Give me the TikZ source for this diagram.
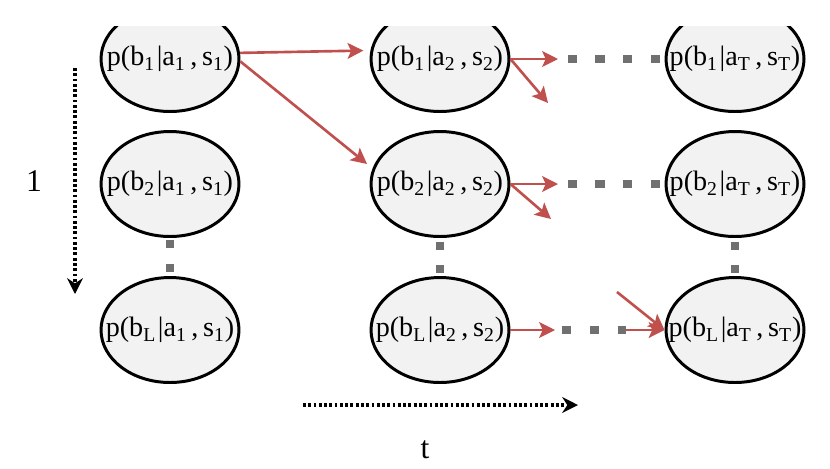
\documentclass[tikz,border=0pt]{standalone}
\usepackage{fontspec}
\setmainfont{Liberation Serif}
\usetikzlibrary{arrows.meta,shapes.geometric}
\definecolor{arrowred}{RGB}{192,80,77}
\definecolor{dotgray}{RGB}{112,112,112}
\definecolor{beliefgray}{RGB}{242,242,242}
\tikzset{
belief/.style={draw,ellipse,fill=beliefgray,line width=1.7pt,minimum width=2.76cm,minimum height=2.1cm,inner sep=0pt,font=\fontsize{16}{19}\selectfont},
arrow/.style={-{Stealth[length=9pt,width=9pt,inset=2pt]},arrowred,line width=1.5pt},
gapdots/.style={dotgray,line width=5pt,dash pattern=on 5.2pt off 10.6pt},
vgapdots/.style={dotgray,line width=4.6pt,dash pattern=on 4.6pt off 9pt},
axisarrow/.style={-{Stealth[length=9pt,width=9pt]},line width=1.8pt,dash pattern=on 1.6pt off 1.4pt},
axislabel/.style={font=\fontsize{18}{21}\selectfont}
}
\newcommand{\pb}[3]{\makebox[0pt]{p(b\textsubscript{#1}\kern1pt|a\textsubscript{#2}\,,\,s\textsubscript{#3})}}

\begin{document}
\begin{tikzpicture}[x=0.02cm,y=-0.02cm]
\useasboundingbox (0,0) rectangle (830,468);
\begin{scope}
\clip (0,26) rectangle (830,468);
% belief nodes
\node[belief] (p11) at (170,59) {\pb{1}{1}{1}};
\node[belief] (p12) at (440,59) {\pb{1}{2}{2}};
\node[belief] (p13) at (735,59) {\pb{1}{T}{T}};
\node[belief] (p21) at (170,184) {\pb{2}{1}{1}};
\node[belief] (p22) at (440,184) {\pb{2}{2}{2}};
\node[belief] (p23) at (735,184) {\pb{2}{T}{T}};
\node[belief] (pL1) at (170,330) {\pb{L}{1}{1}};
\node[belief] (pL2) at (440,330) {\pb{L}{2}{2}};
\node[belief] (pL3) at (735,330) {\pb{L}{T}{T}};
% free ends
\coordinate (e12) at (558,59);
\coordinate (f12) at (548,103);
\coordinate (e22) at (558,184);
\coordinate (f22) at (551,219);
\coordinate (eL2) at (555,330);
\coordinate (sL3) at (626,330);
\coordinate (gL3) at (617,292);
% transitions
\draw[arrow,shorten >=4pt](p11.5)--(p12.173);
\draw[arrow,shorten >=4pt](p11.-2)--(p22.167);
\draw[arrow](p12.east)--(e12);
\draw[arrow](p12.east)--(f12);
\draw[arrow](p22.east)--(e22);
\draw[arrow](p22.east)--(f22);
\draw[arrow](pL2.east)--(eL2);
\draw[arrow](sL3)--(pL3.west);
\draw[arrow](gL3)--(pL3.west);
% gaps
\draw[gapdots,shorten <=5.5pt](e12)--(p13.west);
\draw[gapdots,shorten <=5.5pt](e22)--(p23.west);
\draw[gapdots,shorten <=4pt](eL2)--(sL3);
\draw[vgapdots,shorten <=1pt](p21.south)--(pL1.north);
\draw[vgapdots,shorten <=2pt](p22.south)--(pL2.north);
\draw[vgapdots,shorten <=2pt](p23.south)--(pL3.north);
% axes
\coordinate (ltop) at (75,68);
\coordinate (lbot) at (75,294);
\coordinate (tleft) at (303,405);
\coordinate (tright) at (578,405);
\draw[axisarrow](ltop)--(lbot);
\draw[axisarrow](tleft)--(tright);
\node[axislabel] (llab) at (34,181) {1};
\node[axislabel] (tlab) at (425,450) {t};
\end{scope}
\end{tikzpicture}
\end{document}
